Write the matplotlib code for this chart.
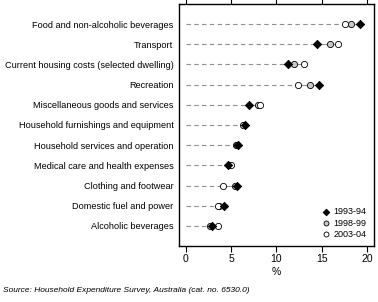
import matplotlib
matplotlib.use("Agg")
import matplotlib.pyplot as plt
from matplotlib import font_manager

names = {f.name for f in font_manager.fontManager.ttflist}
fam = "Liberation Sans Narrow" if "Liberation Sans Narrow" in names else "Liberation Sans"
plt.rcParams['font.family'] = [fam, 'DejaVu Sans']

categories = [
    "Food and non-alcoholic beverages",
    "Transport",
    "Current housing costs (selected dwelling)",
    "Recreation",
    "Miscellaneous goods and services",
    "Household furnishings and equipment",
    "Household services and operation",
    "Medical care and health expenses",
    "Clothing and footwear",
    "Domestic fuel and power",
    "Alcoholic beverages",
]
v1993 = [19.2, 14.5, 11.3, 14.7, 7.0, 6.5, 5.8, 4.7, 5.6, 4.2, 2.9]
v1998 = [18.2, 15.9, 11.9, 13.7, 8.0, 6.4, 5.5, 4.8, 5.4, 3.7, 2.7]
v2003 = [17.6, 16.8, 13.0, 12.4, 8.2, 6.3, 5.6, 5.0, 4.1, 3.5, 3.6]
series_labels = ["1993-94", "1998-99", "2003-04"]
xticks = [0, 5, 10, 15, 20]

fig = plt.figure(figsize=(3.78, 3.02), dpi=100)
ax = fig.add_axes([0.4735, 0.1854, 0.5155, 0.8014])

ys = list(range(len(categories)))
for y, a, b, c in zip(ys, v1993, v1998, v2003):
    lo, hi = min(a, b, c), max(a, b, c)
    ax.plot([0, lo], [y, y], color="#909090", lw=0.8, ls=(0, (4, 3)), zorder=1)
    ax.plot([lo, hi], [y, y], color="#909090", lw=0.8, zorder=1)

ax.scatter(v1993, ys, marker="D", s=18, facecolor="black", edgecolor="black", linewidth=0.6, zorder=3, label=series_labels[0])
ax.scatter(v1998, ys, marker="o", s=20, facecolor="#c8c8c8", edgecolor="black", linewidth=0.6, zorder=2, label=series_labels[1])
ax.scatter(v2003, ys, marker="o", s=20, facecolor="white", edgecolor="black", linewidth=0.6, zorder=2, label=series_labels[2])

ax.set_yticks(ys)
ax.set_yticklabels(categories, fontsize=6.6)
ax.set_ylim(11, -1)
ax.set_xlim(-0.75, 20.75)
ax.set_xticks(xticks)
ax.set_xticklabels([str(t) for t in xticks], fontsize=7.5)
ax.tick_params(axis="y", length=0, pad=4)
ax.tick_params(axis="x", length=4, width=0.8, direction="out", top=True, pad=2)
for s in ax.spines.values():
    s.set_linewidth(1.0)
ax.set_xlabel("%", fontsize=7.5, labelpad=2)

leg = ax.legend(loc="lower right", fontsize=6.5, frameon=False, handletextpad=0.3,
                labelspacing=0.25, borderaxespad=0.4, handlelength=1.0, markerscale=0.8)

fig.text(0.008, 0.033, "Source: Household Expenditure Survey, Australia (cat. no. 6530.0)",
         fontsize=6.0, style="italic", ha="left", va="baseline")

fig.savefig("out.png", dpi=100)
